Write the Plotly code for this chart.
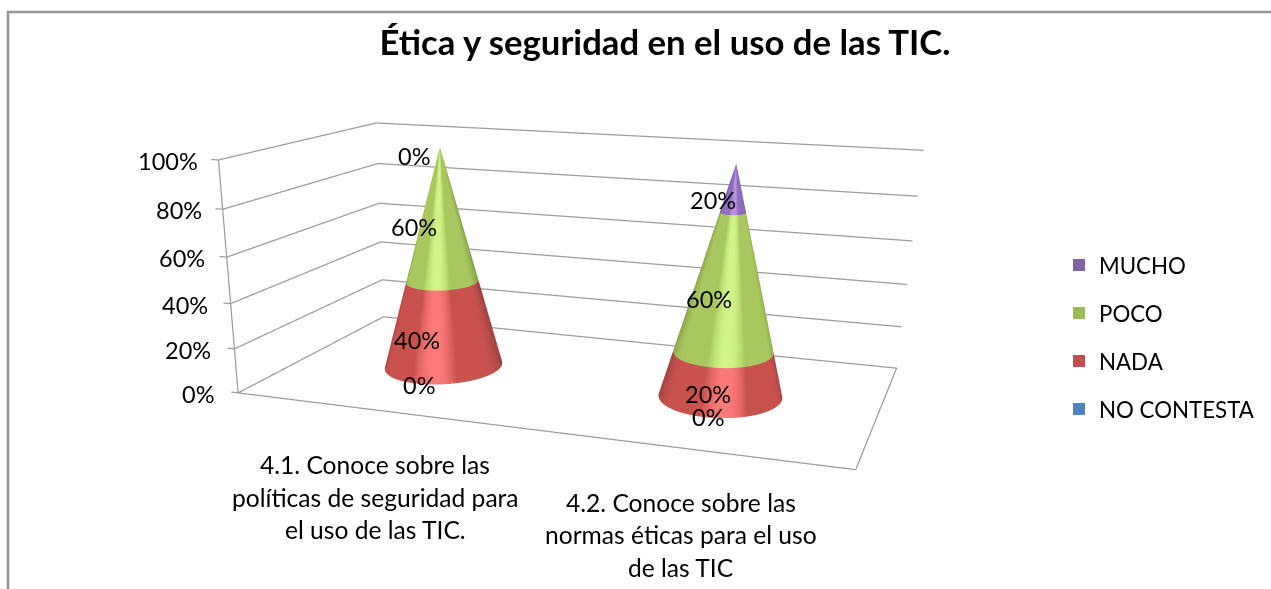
"""
Stacked 3D cone chart: Ética y seguridad en el uso de las TIC.
"""

import numpy as np
import plotly.graph_objects as go

TITLE = "Ética y seguridad en el uso de las TIC."
CATEGORY_LINES = [
    ["4.1. Conoce sobre las", "políticas de seguridad para", "el uso de las TIC."],
    ["4.2. Conoce sobre las", "normas éticas para el uso", "de las TIC"],
]
SERIES = ["NO CONTESTA", "NADA", "POCO", "MUCHO"]
NO_CONTESTA = [0, 0]
NADA = [40, 20]
POCO = [60, 60]
MUCHO = [0, 20]
Z_TICKS = [0, 20, 40, 60, 80, 100]

FONT = "Lato, Carlito, sans-serif"
FIG_W, FIG_H = 1271, 1104
TICK_STUB = 0.026  # x range runs a bit past the wall so the tick stubs are not clipped
ASPECT = dict(x=2 + TICK_STUB, y=1.097, z=0.742)
CONE_RADIUS = 0.2
X_CENTERS = [0.5, 1.49]
LINE_COLOR = "#9c9c9c"

# dark, mid, highlight for the cone shading; last is the legend swatch
COLORS = {
    "NO CONTESTA": ("#3f6796", "#4F81BD", "#7aa7e0", "#4F81BD"),
    "NADA": ("#9c4341", "#C9524F", "#FA7A78", "#C0504D"),
    "POCO": ("#87a24c", "#A8C75F", "#D0F488", "#9BBB59"),
    "MUCHO": ("#6b5088", "#8F6CBC", "#B592E2", "#8064A2"),
}
# label offsets from the middle of each segment, px
LABEL_SHIFT = {
    "NO CONTESTA": [(-25, -20), (-12, -21)],
    "NADA": [(-26, -16), (-14, -20)],
    "POCO": [(-27, -12), (-19, -15)],
    "MUCHO": [(-26, -9), (-22, -12)],
}
CATEGORY_SHIFT = [(0, -55), (-2, -54)]
VALUES = {"NO CONTESTA": NO_CONTESTA, "NADA": NADA, "POCO": POCO, "MUCHO": MUCHO}


def cone_segment(cx, z0, z1, colors):
    theta = np.linspace(0, 2 * np.pi, 181)
    zs = np.array([z0, z1])
    rad = CONE_RADIUS * (1 - zs / 100)
    th, rr = np.meshgrid(theta, rad)
    zz = np.repeat(zs[:, None], len(theta), axis=1)
    view = np.deg2rad(-70)
    shade = np.clip(np.cos(th - view), 0, 1) + 0.03 * np.sin(view - th)
    return go.Surface(
        x=cx + rr * np.cos(th),
        y=0.5 + 1.2 * rr * np.sin(th) / ASPECT["y"],
        z=zz,
        surfacecolor=np.clip(shade, 0, 1),
        cmin=0, cmax=1,
        colorscale=[[0, colors[0]], [0.5, colors[1]], [0.93, colors[1]], [1, colors[2]]],
        showscale=False, hoverinfo="skip",
        lighting=dict(ambient=1, diffuse=0, specular=0, roughness=1, fresnel=0),
    )


def wall_line(x, y, z):
    return go.Scatter3d(x=x, y=y, z=z, mode="lines", line=dict(color=LINE_COLOR, width=2.5),
                        showlegend=False, hoverinfo="skip")


fig = go.Figure()

# floor outline, value axis line, then tick stub and gridline on both walls per tick
fig.add_trace(wall_line([0, 2, 2, 0, 0], [0, 0, 1, 1, 0], [0, 0, 0, 0, 0]))
fig.add_trace(wall_line([0, 0], [0, 0], [Z_TICKS[0], Z_TICKS[-1]]))
for t in Z_TICKS:
    fig.add_trace(wall_line([-TICK_STUB, 0, 0, 2], [0, 0, 1, 1], [t, t, t, t]))

annotations = []
for i, cx in enumerate(X_CENTERS):
    base = 0
    for name in SERIES:
        val = VALUES[name][i]
        if val > 0:
            fig.add_trace(cone_segment(cx, base, base + val, COLORS[name]))
        dx, dy = LABEL_SHIFT[name][i]
        annotations.append(dict(
            x=cx, y=0.5, z=base + val / 2, text=f"{val}%", showarrow=False,
            xshift=dx, yshift=dy, font=dict(size=23.5, color="black", family=FONT),
        ))
        base += val

    dx, dy = CATEGORY_SHIFT[i]
    for j, line in enumerate(CATEGORY_LINES[i]):
        annotations.append(dict(
            x=0.5 + i, y=0, z=0, text=line, showarrow=False,
            xshift=dx, yshift=dy - 32.5 * j,
            font=dict(size=24.6, color="black", family=FONT),
        ))

for t in Z_TICKS:
    annotations.append(dict(
        x=0, y=0, z=t, text=f"{t}%", showarrow=False, xanchor="right",
        xshift=-22 + 0.04 * t, yshift=-1, font=dict(size=23.5, color="black", family=FONT),
    ))

# legend entries, top one first (2D traces give the larger square swatch)
for name in reversed(SERIES):
    fig.add_trace(go.Scatter(
        x=[None], y=[None], mode="markers", name=name, legendgroup=name,
        marker=dict(symbol="square", size=15, color=COLORS[name][3]),
    ))

axis_off = dict(showgrid=False, showline=False, zeroline=False, showticklabels=False,
                ticks="", showbackground=False, title="", showspikes=False)

fig.update_layout(
    width=FIG_W, height=FIG_H,
    margin=dict(l=0, r=0, t=0, b=0),
    paper_bgcolor="white",
    plot_bgcolor="rgba(0,0,0,0)",
    font=dict(family=FONT, color="black", size=22),
    title=dict(text=f"<b>{TITLE}</b>", x=665 / FIG_W, xanchor="center",
               y=1 - 43 / FIG_H, yanchor="middle", font=dict(size=34.7, color="black", family=FONT)),
    legend=dict(x=1059 / FIG_W, y=1 - 244 / FIG_H, xanchor="left", yanchor="top",
                traceorder="grouped", tracegroupgap=16, itemsizing="constant",
                bgcolor="rgba(0,0,0,0)", font=dict(size=22.3)),
    xaxis=dict(visible=False),
    yaxis=dict(visible=False),
    scene=dict(
        domain=dict(x=[0, 1050 / FIG_W], y=[0, 1]),
        aspectmode="manual", aspectratio=ASPECT,
        camera=dict(
            eye=dict(x=1.3329 + TICK_STUB / 2, y=-4.1873, z=0.9406),
            center=dict(x=-0.0398 + TICK_STUB / 2, y=-0.4155, z=-0.8464),
            up=dict(x=-0.1457, y=0.3798, z=0.9135),
        ),
        xaxis=dict(range=[-TICK_STUB, 2], **axis_off),
        yaxis=dict(range=[0, 1], **axis_off),
        zaxis=dict(range=[0, 100], **axis_off),
        annotations=annotations,
    ),
    # chart frame: its right and bottom edges fall outside the picture
    shapes=[dict(type="rect", xref="paper", yref="paper", x0=8 / FIG_W, x1=1300 / FIG_W,
                 y0=1 - 640 / FIG_H, y1=1 - 12 / FIG_H, line=dict(color="#959595", width=2.5))],
)

fig.write_html(
    "out.html",
    config=dict(displayModeBar=False),
    post_script="document.body.style.margin='0';document.body.style.overflow='hidden';"
                "document.documentElement.style.overflow='hidden';",
)
